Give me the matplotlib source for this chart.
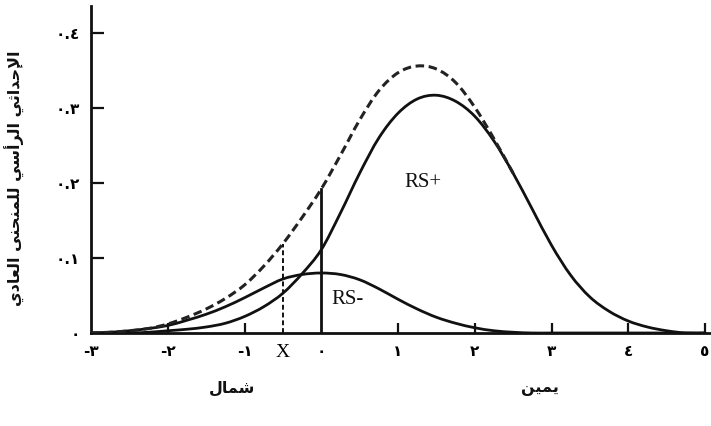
import numpy as np
import matplotlib
matplotlib.use("Agg")
import matplotlib.pyplot as plt
from matplotlib.path import Path
from matplotlib.patches import PathPatch

# ---------------- data ----------------
x_vals = [-3.0, -2.75, -2.5, -2.25, -2.0, -1.75, -1.5, -1.25, -1.0, -0.75,
          -0.5, -0.25, 0.0, 0.25, 0.5, 0.75, 1.0, 1.25, 1.5, 1.75,
          2.0, 2.25, 2.5, 2.75, 3.0, 3.25, 3.5, 3.75, 4.0, 4.25,
          4.5, 4.75, 5.0]

rs_plus = [0.000, 0.000, 0.000, 0.001, 0.003, 0.005, 0.008, 0.013, 0.022, 0.035,
           0.053, 0.079, 0.111, 0.160, 0.213, 0.260, 0.293, 0.312, 0.317, 0.309,
           0.289, 0.256, 0.213, 0.165, 0.117, 0.077, 0.048, 0.029, 0.016, 0.008,
           0.003, 0.000, 0.000]

rs_minus = [0.000, 0.001, 0.003, 0.006, 0.010, 0.017, 0.025, 0.035, 0.047, 0.060,
            0.072, 0.078, 0.080, 0.078, 0.071, 0.059, 0.045, 0.032, 0.021, 0.013,
            0.007, 0.003, 0.001, 0.000, 0.000, 0.000, 0.000, 0.000, 0.000, 0.000,
            0.000, 0.000, 0.000]

dash_x = [-3.0, -2.75, -2.5, -2.25, -2.0, -1.75, -1.5, -1.25, -1.0, -0.75,
          -0.5, -0.25, 0.0, 0.25, 0.5, 0.75, 1.0, 1.25, 1.5, 1.75,
          2.0, 2.25, 2.5]
total = [0.000, 0.001, 0.003, 0.006, 0.012, 0.021, 0.032, 0.046, 0.064, 0.089,
         0.119, 0.154, 0.192, 0.237, 0.284, 0.323, 0.347, 0.356, 0.352, 0.334,
         0.301, 0.259, 0.213]

x_cut = 0.0      # solid vertical line
x_X = -0.5       # dashed vertical line at X

xtick_pos = [-3, -2, -1, -0.5, 0, 1, 2, 3, 4, 5]
xtick_lab = ["-٣", "-٢", "-١", "X", "٠", "١", "٢", "٣", "٤", "٥"]
ytick_pos = [0, 0.1, 0.2, 0.3, 0.4]
ytick_lab = ["٠", "٠.١", "٠.٢", "٠.٣", "٠.٤"]

ylabel_txt = "الإحداثي الرأسي للمنحنى العادي"
left_txt = "شمال"
right_txt = "يمين"

# ---------------- simple Arabic shaping ----------------
FORMS = {
    'ا': ('\uFE8D', '\uFE8E', None, None),
    'أ': ('\uFE83', '\uFE84', None, None),
    'إ': ('\uFE87', '\uFE88', None, None),
    'ث': ('\uFE99', '\uFE9A', '\uFE9B', '\uFE9C'),
    'ح': ('\uFEA1', '\uFEA2', '\uFEA3', '\uFEA4'),
    'د': ('\uFEA9', '\uFEAA', None, None),
    'ر': ('\uFEAD', '\uFEAE', None, None),
    'س': ('\uFEB1', '\uFEB2', '\uFEB3', '\uFEB4'),
    'ش': ('\uFEB5', '\uFEB6', '\uFEB7', '\uFEB8'),
    'ع': ('\uFEC9', '\uFECA', '\uFECB', '\uFECC'),
    'ل': ('\uFEDD', '\uFEDE', '\uFEDF', '\uFEE0'),
    'م': ('\uFEE1', '\uFEE2', '\uFEE3', '\uFEE4'),
    'ن': ('\uFEE5', '\uFEE6', '\uFEE7', '\uFEE8'),
    'ى': ('\uFEEF', '\uFEF0', None, None),
    'ي': ('\uFEF1', '\uFEF2', '\uFEF3', '\uFEF4'),
}
LAM_ALEF = {'ا': ('\uFEFB', '\uFEFC'), 'أ': ('\uFEF7', '\uFEF8'), 'إ': ('\uFEF9', '\uFEFA')}


def shape(s):
    toks = []
    i = 0
    while i < len(s):
        c = s[i]
        if c == 'ل' and i + 1 < len(s) and s[i + 1] in LAM_ALEF:
            toks.append(('LA', s[i + 1]))
            i += 2
        else:
            toks.append(('C', c))
            i += 1

    def joins(t):
        return t[0] == 'LA' or t[1] in FORMS

    def join_next(t):
        return t[0] == 'C' and t[1] in FORMS and FORMS[t[1]][2] is not None

    out = []
    for j, t in enumerate(toks):
        pj = j > 0 and join_next(toks[j - 1]) and joins(t)
        nj = j < len(toks) - 1 and join_next(t) and joins(toks[j + 1])
        if t[0] == 'LA':
            out.append(LAM_ALEF[t[1]][1] if pj else LAM_ALEF[t[1]][0])
        elif t[1] in FORMS:
            iso, fin, ini, med = FORMS[t[1]]
            if pj and nj:
                out.append(med)
            elif pj:
                out.append(fin)
            elif nj:
                out.append(ini)
            else:
                out.append(iso)
        else:
            out.append(t[1])
    return ''.join(out)[::-1]


def smooth_path(xs, ys):
    """Cubic Bezier path passing through every read point (Catmull-Rom tangents)."""
    P = np.column_stack([xs, ys]).astype(float)
    n = len(P)
    verts = [P[0]]
    codes = [Path.MOVETO]
    for i in range(n - 1):
        p0 = P[i - 1] if i > 0 else P[i]
        p1 = P[i]
        p2 = P[i + 1]
        p3 = P[i + 2] if i + 2 < n else P[i + 1]
        c1 = p1 + (p2 - p0) / 6.0
        c2 = p2 - (p3 - p1) / 6.0
        verts += [c1, c2, p2]
        codes += [Path.CURVE4] * 3
    return Path(verts, codes)


# ---------------- figure ----------------
W, H = 711, 426
fig = plt.figure(figsize=(W / 100, H / 100), dpi=100)
ax = fig.add_axes([91 / W, 93 / H, (W - 91) / W, (333 - 6) / H])
ax.set_xlim(-2.974, 5.078)
ax.set_ylim(0, 0.436)

ink = '#111111'
for ys in (rs_plus, rs_minus):
    ax.add_patch(PathPatch(smooth_path(x_vals, ys), fill=False, edgecolor=ink, lw=2.0,
                           capstyle='round', joinstyle='round', zorder=3))
ax.add_patch(PathPatch(smooth_path(dash_x, total), fill=False, edgecolor='#222222', lw=2.2,
                       linestyle=(0, (2.8, 1.5)), zorder=3))

top_cut = total[dash_x.index(x_cut)]
top_X = total[dash_x.index(x_X)]
ax.plot([x_cut, x_cut], [0, top_cut], color=ink, lw=2.0, zorder=3)
ax.plot([x_X, x_X], [0, top_X], color=ink, lw=1.4, dashes=(2.5, 1.5), zorder=3)

for s in ['top', 'right']:
    ax.spines[s].set_visible(False)
for s in ['left', 'bottom']:
    ax.spines[s].set_linewidth(2.0)
    ax.spines[s].set_color(ink)

ax.set_xticks(xtick_pos)
ax.set_xticklabels(xtick_lab)
ax.set_yticks(ytick_pos)
ax.set_yticklabels(ytick_lab)
ax.tick_params(axis='x', direction='in', length=7, width=1.6, pad=8, labelsize=11, color=ink)
ax.tick_params(axis='y', direction='in', length=9.5, width=1.6, pad=8, labelsize=11, color=ink)
for lab in ax.get_xticklabels() + ax.get_yticklabels():
    lab.set_fontfamily(['DejaVu Sans'])
    lab.set_fontweight('bold')
for t, p in zip(ax.xaxis.get_major_ticks(), xtick_pos):
    if p in (-3, -0.5, 0):
        t.tick1line.set_visible(False)
for t, p in zip(ax.yaxis.get_major_ticks(), ytick_pos):
    if p == 0:
        t.tick1line.set_visible(False)
xl = ax.get_xticklabels()
xl[xtick_pos.index(-0.5)].set_fontfamily(['Liberation Serif'])
xl[xtick_pos.index(-0.5)].set_fontweight('normal')
xl[xtick_pos.index(-0.5)].set_fontsize(14)

ax.text(1.08, 0.201, 'RS+', family='Liberation Serif', fontsize=15, va='center', ha='left', color=ink)
ax.text(0.13, 0.044, 'RS-', family='Liberation Serif', fontsize=15, va='center', ha='left', color=ink)

fig.text(15 / W, 1 - 178 / H, shape(ylabel_txt), rotation=90, ha='center', va='center',
         family=['DejaVu Sans'], fontweight='bold', fontsize=11.5, color=ink)
fig.text(232 / W, 1 - 388 / H, shape(left_txt), ha='center', va='center',
         family=['DejaVu Sans'], fontweight='bold', fontsize=11.5, color=ink)
fig.text(540 / W, 1 - 388 / H, shape(right_txt), ha='center', va='center',
         family=['DejaVu Sans'], fontweight='bold', fontsize=11.5, color=ink)

fig.savefig('out.png', dpi=100)
